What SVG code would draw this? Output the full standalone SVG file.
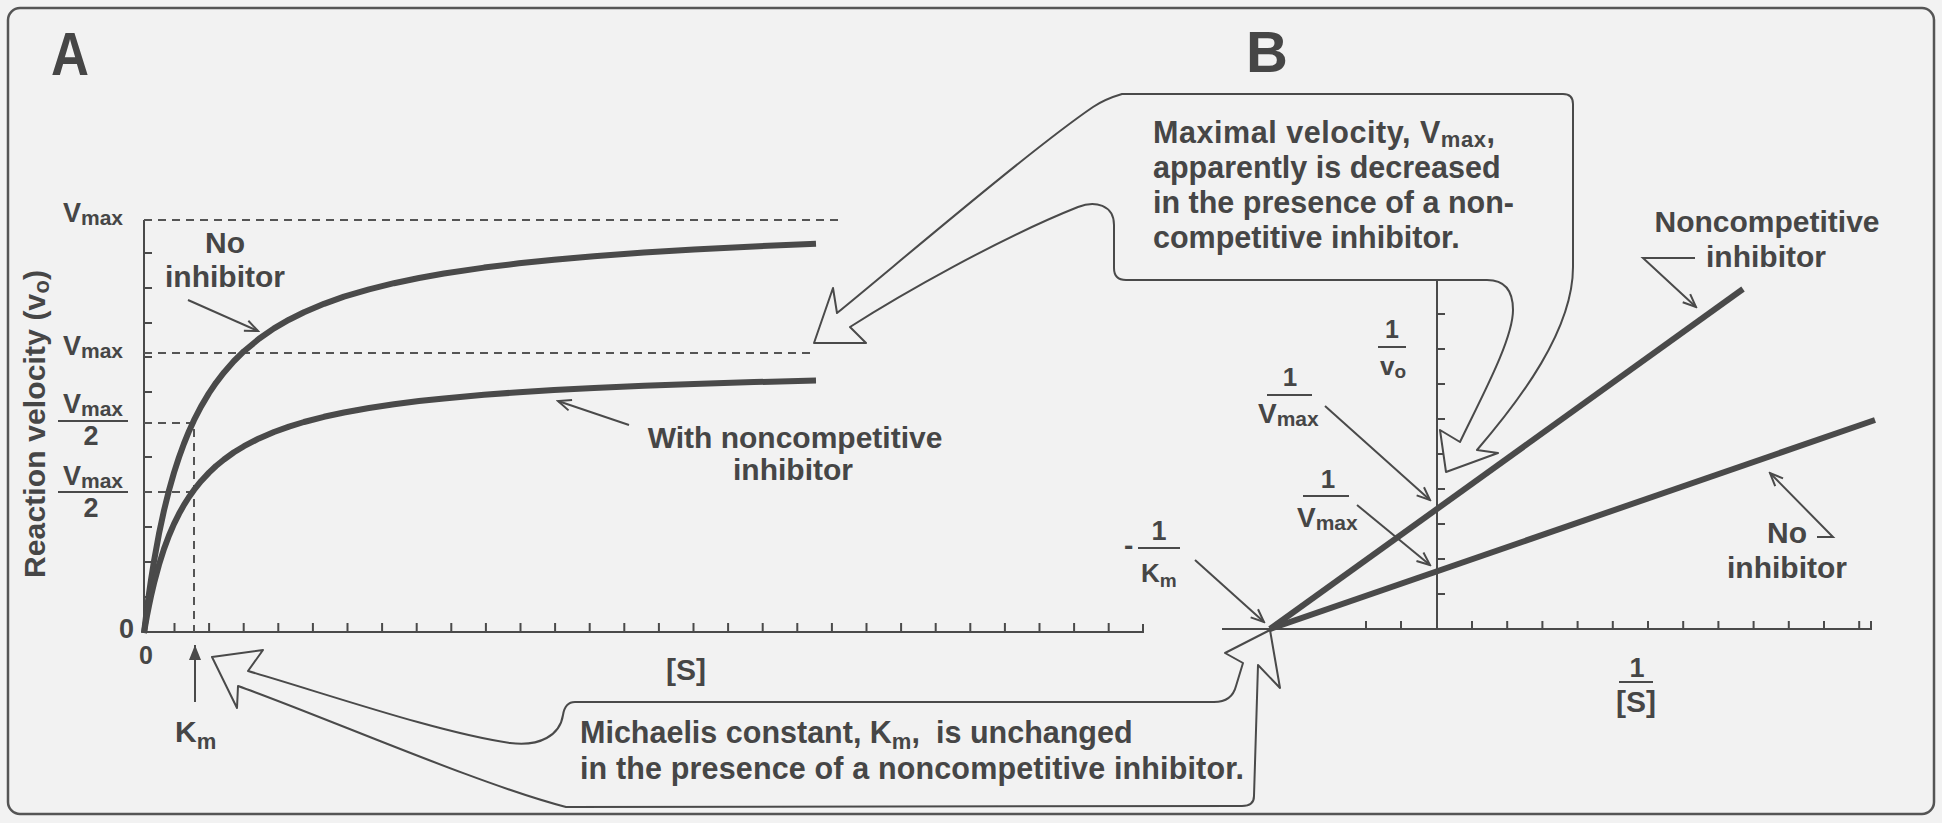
<svg xmlns="http://www.w3.org/2000/svg" width="1942" height="823" viewBox="0 0 1942 823">
<style>
.t{font-family:"Liberation Sans",Arial,Helvetica,sans-serif;font-weight:bold;fill:#464646}
.ln{stroke:#4a4a4a;stroke-width:2;fill:none}
.dash{stroke:#555;stroke-width:2;stroke-dasharray:8 6;fill:none}
.thick{stroke:#4a4a4a;stroke-width:6;fill:none;stroke-linecap:butt;stroke-linejoin:round}
.callout{fill:#f2f2f2;stroke:#4a4a4a;stroke-width:2;stroke-linejoin:round}
.arr{stroke:#4a4a4a;stroke-width:2;fill:none;marker-end:url(#ah)}
</style>
<defs>
<marker id="ah" markerUnits="userSpaceOnUse" markerWidth="18" markerHeight="16" viewBox="-16 -8 18 16" refX="0" refY="0" orient="auto">
<path d="M-13,-5.5 L0,0 L-13,5.5" fill="none" stroke="#4a4a4a" stroke-width="2"/>
</marker>
<marker id="ahf" markerUnits="userSpaceOnUse" markerWidth="18" markerHeight="16" viewBox="-16 -8 18 16" refX="0" refY="0" orient="auto">
<path d="M-15,-6 L0,0 L-15,6 Z" fill="#4a4a4a"/>
</marker>
</defs>
<rect x="0" y="0" width="1942" height="823" fill="#f2f2f2"/>
<rect id="frame" x="8" y="8" width="1926" height="806" rx="12" fill="none" stroke="#555" stroke-width="2.5"/>

<g id="panelA">
<text class="t" x="51" y="75" font-size="62" textLength="38" lengthAdjust="spacingAndGlyphs">A</text>
<g id="axesA">
<path class="ln" d="M144,220 V632 H1143 V624"/>
<path class="ln" d="M144,253h8 M144,288h8 M144,323h8 M144,357h8 M144,392h8 M144,423h8 M144,457h8 M144,492h8 M144,527h8 M144,562h8 M144,597h8"/>
<path class="ln" d="M174.5,632v-9 M209.1,632v-9 M243.7,632v-9 M278.3,632v-9 M312.9,632v-9 M347.5,632v-9 M382.1,632v-9 M416.7,632v-9 M451.3,632v-9 M485.9,632v-9 M520.5,632v-9 M555.1,632v-9 M589.7,632v-9 M624.3,632v-9 M658.9,632v-9 M693.5,632v-9 M728.1,632v-9 M762.7,632v-9 M797.3,632v-9 M831.9,632v-9 M866.5,632v-9 M901.1,632v-9 M935.7,632v-9 M970.3,632v-9 M1004.9,632v-9 M1039.5,632v-9 M1074.1,632v-9 M1108.7,632v-9"/>
<path class="dash" d="M144,220 H840 M144,353 H813 M144,423 H194 V632 M144,492 H194"/>
</g>
<g id="curveNoInhibitorA">
<polyline class="thick" points="144,633 145,624.5 146,616.3 147,608.5 149,593.7 151,579.9 154,561.1 159,533.7 164,510.4 169,490.2 174,472.6 179,457.2 184,443.5 189,431.2 194,420.2 201,406.6 209,393.1 216,382.8 224,372.4 234,361 244,351.2 259,338.8 274,328.4 289,319.7 304,312.2 324,303.8 344,296.7 369,289.3 394,283.2 419,278 444,273.5 484,267.6 519,263.3 554,259.7 594,256.2 644,252.5 694,249.5 754,246.4 816,243.8"/>
</g>
<g id="curveInhibitorA">
<polyline class="thick" points="144,633 145,627 146,621.3 147,615.8 149,605.6 151,596.1 154,583.2 159,564.6 164,548.9 169,535.5 174,523.9 179,513.8 184,504.9 189,497 194,489.9 201,481.2 209,472.6 216,466 224,459.5 234,452.3 244,446.2 259,438.4 274,432 289,426.6 304,422 324,416.8 344,412.5 369,408 394,404.3 419,401.1 444,398.4 484,394.8 519,392.2 554,390.1 594,388 644,385.8 694,383.9 754,382.1 816,380.5"/>
</g>
<g id="labelsA">
<text class="t" transform="translate(45,578) rotate(-90)" font-size="30" textLength="308">Reaction velocity (v<tspan font-size="22" dy="4">o</tspan><tspan dy="-4">)</tspan></text>
<text class="t" x="63" y="222" font-size="27">V<tspan font-size="21" dy="3">max</tspan></text>
<text class="t" x="63" y="355" font-size="27">V<tspan font-size="21" dy="3">max</tspan></text>
<text class="t" x="63" y="413" font-size="27">V<tspan font-size="21" dy="3">max</tspan></text>
<line class="ln" x1="58" y1="421" x2="128" y2="421"/>
<text class="t" x="91" y="445" font-size="27" text-anchor="middle">2</text>
<text class="t" x="63" y="485" font-size="27">V<tspan font-size="21" dy="3">max</tspan></text>
<line class="ln" x1="58" y1="492" x2="128" y2="492"/>
<text class="t" x="91" y="517" font-size="27" text-anchor="middle">2</text>
<text class="t" x="134" y="638" font-size="27" text-anchor="end">0</text>
<text class="t" x="146" y="664" font-size="25" text-anchor="middle">0</text>
<text class="t" x="175" y="742" font-size="30">K<tspan font-size="22" dy="7">m</tspan></text>
<text class="t" x="686" y="680" font-size="30" text-anchor="middle">[S]</text>
<text class="t" x="225" y="253" font-size="30" text-anchor="middle">No</text>
<text class="t" x="225" y="287" font-size="30" text-anchor="middle">inhibitor</text>
<text class="t" x="795" y="448" font-size="30" text-anchor="middle">With noncompetitive</text>
<text class="t" x="793" y="480" font-size="30" text-anchor="middle">inhibitor</text>
</g>
</g>

<g id="panelB">
<text class="t" x="1246" y="72" font-size="58">B</text>
<g id="axesB">
<path class="ln" d="M1437,280 V629 M1222,629 H1871 V621"/>
<path class="ln" d="M1437,314h8 M1437,349h8 M1437,384h8 M1437,419h8 M1437,454h8 M1437,489h8 M1437,524h8 M1437,559h8 M1437,594h8"/>
<path class="ln" d="M1366,629v-8 M1401,629v-8 M1472,629v-8 M1507.2,629v-8 M1542.4,629v-8 M1577.6,629v-8 M1612.8,629v-8 M1648,629v-8 M1683.2,629v-8 M1718.4,629v-8 M1753.6,629v-8 M1788.8,629v-8 M1824,629v-8 M1859.2,629v-8"/>
</g>
</g>

<g id="calloutVmax">
<path class="callout" d="M1122,94 L1563,94 Q1573,94 1573,104 L1573,267 C1573,330 1520,400 1477,450 L1498,453 L1446,472 L1440,430 L1460,442 C1480,400 1513,340 1513,310 Q1513,280 1487,280 L1126,280 Q1114,280 1114,268 L1114,225 C1114,205 1095,200 1078,207 C1000,238 900,295 850,327 L866,343 L814,343 L833,288 L837,313 C890,270 1030,150 1093,107 Q1105,99 1122,94 Z"/>
<text class="t" x="1153" y="143" font-size="30.5" textLength="342">Maximal velocity, V<tspan font-size="22" dy="4">max</tspan><tspan dy="-4">,</tspan></text>
<text class="t" x="1153" y="178" font-size="30.5">apparently is decreased</text>
<text class="t" x="1153" y="213" font-size="30.5">in the presence of a non-</text>
<text class="t" x="1153" y="248" font-size="30.5">competitive inhibitor.</text>
</g>

<g id="calloutKm">
<path class="callout" d="M575,702 L1214,702 Q1232,702 1236,686 L1243,663 L1225,653 L1270,630 L1280,688 L1258,665 L1254,796 Q1254,806 1242,806 L566,807 C480,785 320,715 238,686 L237,708 L212,657 L263,650 L248,671 C330,695 440,733 510,743 C540,747 560,735 563,715 Q565,702 575,702 Z"/>
<text class="t" x="580" y="743" font-size="30.5">Michaelis constant, K<tspan font-size="22" dy="6">m</tspan><tspan dy="-6">,</tspan><tspan x="936">is unchanged</tspan></text>
<text class="t" x="580" y="779" font-size="30.5" textLength="664">in the presence of a noncompetitive inhibitor.</text>
</g>

<g id="linesB">
<line class="thick" x1="1270" y1="629" x2="1743" y2="289"/>
<line class="thick" x1="1270" y1="629" x2="1875" y2="420"/>
</g>

<g id="labelsB">
<text class="t" x="1392" y="338" font-size="25" text-anchor="middle">1</text>
<line class="ln" x1="1378" y1="347" x2="1406" y2="347"/>
<text class="t" x="1380" y="375" font-size="26">v<tspan font-size="19" dy="3">o</tspan></text>
<text class="t" x="1290" y="386" font-size="26" text-anchor="middle">1</text>
<line class="ln" x1="1267" y1="395" x2="1312" y2="395"/>
<text class="t" x="1258" y="423" font-size="28">V<tspan font-size="21" dy="3">max</tspan></text>
<text class="t" x="1328" y="488" font-size="26" text-anchor="middle">1</text>
<line class="ln" x1="1303" y1="496" x2="1349" y2="496"/>
<text class="t" x="1297" y="527" font-size="28">V<tspan font-size="21" dy="3">max</tspan></text>
<text class="t" x="1124" y="555" font-size="28">-</text>
<text class="t" x="1159" y="540" font-size="27" text-anchor="middle">1</text>
<line class="ln" x1="1138" y1="548" x2="1180" y2="548"/>
<text class="t" x="1141" y="582" font-size="26">K<tspan font-size="19" dy="5">m</tspan></text>
<text class="t" x="1637" y="677" font-size="27" text-anchor="middle">1</text>
<line class="ln" x1="1619" y1="682" x2="1653" y2="682"/>
<text class="t" x="1636" y="712" font-size="30" text-anchor="middle">[S]</text>
<text class="t" x="1767" y="232" font-size="30" text-anchor="middle">Noncompetitive</text>
<text class="t" x="1766" y="267" font-size="30" text-anchor="middle">inhibitor</text>
<text class="t" x="1787" y="543" font-size="30" text-anchor="middle">No</text>
<text class="t" x="1787" y="578" font-size="30" text-anchor="middle">inhibitor</text>
</g>

<g id="connectors">
<line class="arr" x1="188" y1="300" x2="258" y2="331"/>
<line class="arr" x1="629" y1="425" x2="558" y2="401"/>
<line class="ln" x1="195" y1="702" x2="195" y2="645" marker-end="url(#ahf)"/>
<line class="arr" x1="1325" y1="406" x2="1430" y2="500"/>
<line class="arr" x1="1357" y1="505" x2="1430" y2="565"/>
<line class="arr" x1="1195" y1="560" x2="1264" y2="622"/>
<polyline class="arr" points="1695,258 1643,258 1696,307"/>
<polyline class="arr" points="1817,537 1833,537 1770,473"/>
</g>
</svg>
